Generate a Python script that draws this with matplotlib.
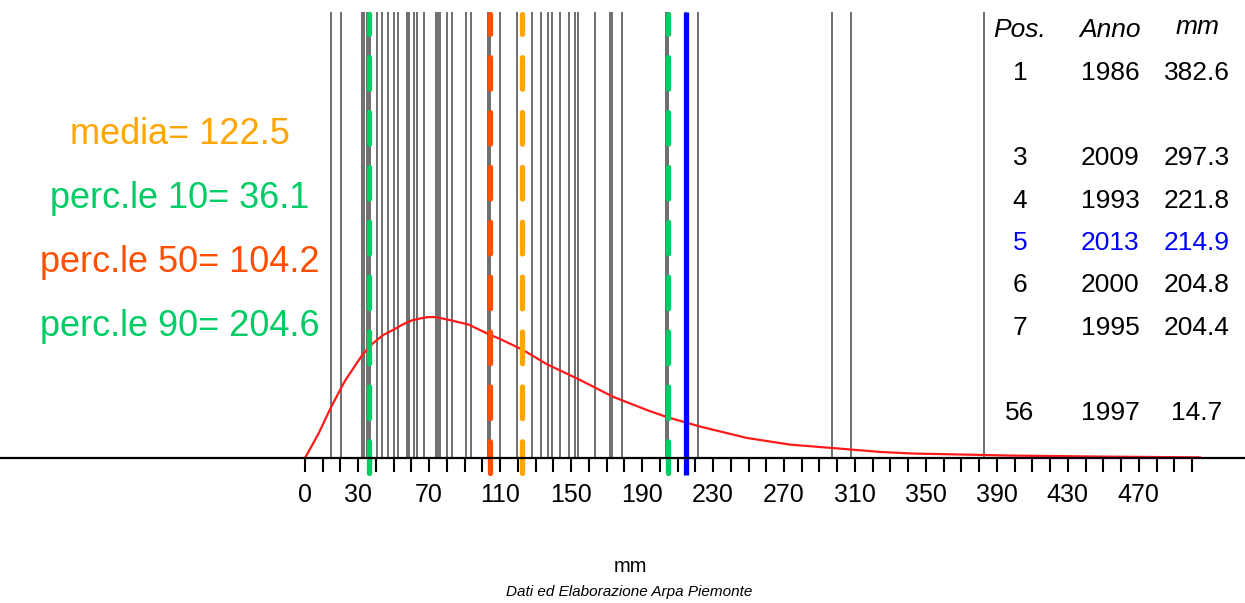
import matplotlib.pyplot as plt

plt.rcParams['font.family'] = ['Liberation Sans', 'DejaVu Sans']

# valori annuali (mm), ordinati
valori = [14.7, 20.1, 32.0, 33.3, 34.9, 35.8, 36.4, 40.4, 43.4, 46.8,
          50.2, 52.4, 57.3, 57.8, 58.8, 61.7, 62.9, 63.3, 67.1, 73.7,
          74.8, 76.1, 79.9, 82.7, 90.8, 93.6, 103.2, 103.9, 104.5, 109.9,
          119.5, 127.8, 132.9, 136.7, 139.5, 143.7, 149.0, 152.2, 154.1, 163.5,
          171.9, 173.1, 178.7, 203.4, 203.6, 203.8, 204.0, 204.1, 204.3, 204.4,
          204.8, 214.9, 221.8, 297.3, 308.0, 382.6]
anno_evidenziato = 214.9
media = 122.5
perc10 = 36.1
perc50 = 104.2
perc90 = 204.6

# curva di densita' (x in mm, densita' x 1e-3)
curva_x = [0, 7.5, 14.7, 22.5, 31.9, 36.1, 38.5, 44, 50.7, 55, 60.1, 65,
           69.5, 74, 78.9, 85, 92.1, 98.6, 103.3, 109.9, 123, 136.2, 155, 173.8,
           192.6, 203.9, 222.7, 249, 273.4, 297.6, 324, 342.7, 371, 397, 448, 504.5]
curva_y = [0, 1.18, 2.51, 3.80, 5.03, 5.47, 5.67, 6.06, 6.36, 6.58, 6.78, 6.88,
           6.95, 6.94, 6.85, 6.73, 6.58, 6.31, 6.11, 5.87, 5.32, 4.63, 3.85, 3.01,
           2.37, 2.02, 1.55, 0.99, 0.66, 0.49, 0.30, 0.22, 0.17, 0.12, 0.07, 0.03]

tick_pos = list(range(0, 501, 10))
tick_lab = [0, 30, 70, 110, 150, 190, 230, 270, 310, 350, 390, 430, 470]

tab_pos = [1, 3, 4, 5, 6, 7, 56]
tab_anno = [1986, 2009, 1993, 2013, 2000, 1995, 1997]
tab_mm = [382.6, 297.3, 221.8, 214.9, 204.8, 204.4, 14.7]
tab_riga = [0, 2, 3, 4, 5, 6, 8]

W, H = 1245, 603
fig = plt.figure(figsize=(W / 100, H / 100), dpi=100)
ax = fig.add_axes([0, 0, 1, 1])
ax.set_xlim(-305 / 1.774, (W - 305) / 1.774)
ax.set_ylim(-145 / 20.286, 458 / 20.286)
ax.axis('off')

top = 446 / 20.286
ax.vlines(valori, 0, top, color='#6f6f6f', lw=1.4, zorder=1)
ax.plot(curva_x, curva_y, color='#ff1a1a', lw=1.6, zorder=2)

dash = (0, (6.0, 4.4))
for v, c in [(perc10, '#00cc66'), (perc50, '#ff4f00'), (media, '#ffa500'), (perc90, '#00cc66')]:
    ax.plot([v, v], [-0.75, top - 0.12], color=c, lw=3.8, linestyle=dash,
            dash_capstyle='round', solid_capstyle='butt', zorder=3)
ax.vlines(anno_evidenziato, -0.84, top, color='#0000ff', lw=3.8, zorder=3)

ax.axhline(0, color='black', lw=1.6, zorder=4)
ax.vlines(tick_pos, -0.69, 0, color='black', lw=1.5, zorder=4)
for t in tick_lab:
    ax.text(t, -1.8, str(t), ha='center', va='center', fontsize=18)

def ftext(px, py, s, **kw):
    fig.text(px / W, 1 - py / H, s, ha='center', va='center', **kw)

ftext(180, 135, 'media= %.1f' % media, color='#ffa500', fontsize=26)
ftext(180, 198, 'perc.le 10= %.1f' % perc10, color='#00cc66', fontsize=26)
ftext(180, 262, 'perc.le 50= %.1f' % perc50, color='#ff4f00', fontsize=26)
ftext(180, 326, 'perc.le 90= %.1f' % perc90, color='#00cc66', fontsize=26)

ftext(1020, 30, 'Pos.', fontsize=19, style='italic')
ftext(1110, 30, 'Anno', fontsize=19, style='italic')
ftext(1198, 27, 'mm', fontsize=19, style='italic')
for p, a, m, r in zip(tab_pos, tab_anno, tab_mm, tab_riga):
    c = 'blue' if m == anno_evidenziato else 'black'
    y = 73 + r * 42.5
    ftext(1020, y, str(p), fontsize=19, color=c)
    ftext(1110, y, str(a), fontsize=19, color=c)
    ftext(1197, y, '%.1f' % m, fontsize=19, color=c)

ftext(630, 566, 'mm', fontsize=14.5)
ftext(629, 592, 'Dati ed Elaborazione Arpa Piemonte', fontsize=11, style='italic')

fig.savefig('out.png', dpi=100)
